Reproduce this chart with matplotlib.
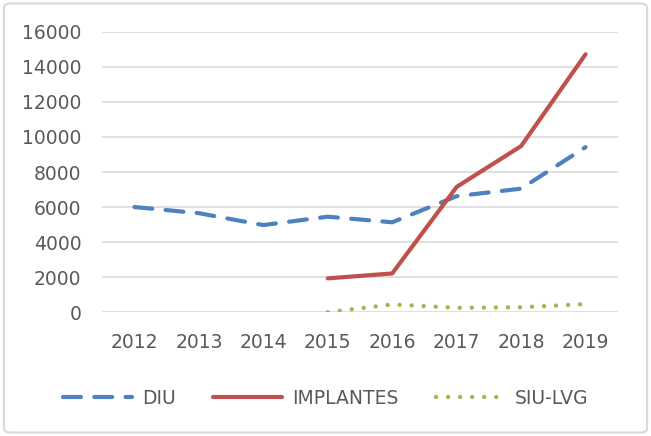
import matplotlib
matplotlib.use('Agg')
import matplotlib.pyplot as plt
from matplotlib.patches import FancyBboxPatch
import numpy as np

# Data
years = ['2012', '2013', '2014', '2015', '2016', '2017', '2018', '2019']
diu = [6000, 5650, 4970, 5450, 5130, 6620, 7050, 9420]
implantes = [np.nan, np.nan, np.nan, 1930, 2210, 7150, 9480, 14720]
siu_lvg = [np.nan, np.nan, np.nan, 0, 440, 250, 280, 460]
yticks = [0, 2000, 4000, 6000, 8000, 10000, 12000, 14000, 16000]

text_color = '#595959'
grid_color = '#D9D9D9'

plt.rcParams['font.family'] = ['DejaVu Sans']

fig = plt.figure(figsize=(6.51, 4.36), dpi=100)
ax = fig.add_axes([0.157, 0.284, 0.792, 0.643])

x = np.arange(len(years))
ax.plot(x, diu, color='#4F81BD', lw=3, dashes=(4.3, 3.2), dash_capstyle='round',
        solid_capstyle='round', label='DIU')
ax.plot(x, implantes, color='#C0504D', lw=3, solid_capstyle='round', label='IMPLANTES')
ax.plot(x, siu_lvg, color='#9BBB59', lw=3.2, dashes=(0.01, 2.7), dash_capstyle='round',
        label='SIU-LVG')

ax.set_xlim(-0.5, len(years) - 0.5)
ax.set_ylim(0, 16000)
ax.set_yticks(yticks)
ax.set_yticklabels([str(v) for v in yticks])
ax.set_xticks(x)
ax.set_xticklabels(years)
ax.grid(axis='y', color=grid_color, lw=1.2)
ax.set_axisbelow(True)
for s in ax.spines.values():
    s.set_visible(False)
ax.tick_params(length=0, labelsize=13.5, colors=text_color)
ax.tick_params(axis='y', pad=15)
ax.tick_params(axis='x', pad=15)

leg = fig.legend(loc='center', bbox_to_anchor=(0.5, 0.087), ncol=3, frameon=False,
                 fontsize=13.5, handlelength=3.7, columnspacing=2.0, handletextpad=0.5)
for t in leg.get_texts():
    t.set_color(text_color)

border = FancyBboxPatch((0.006, 0.008), 0.988, 0.984, boxstyle='round,pad=0,rounding_size=0.01',
                        transform=fig.transFigure, facecolor='none', edgecolor=grid_color, lw=1.5)
fig.patches.append(border)

fig.savefig('out.png', dpi=100)
